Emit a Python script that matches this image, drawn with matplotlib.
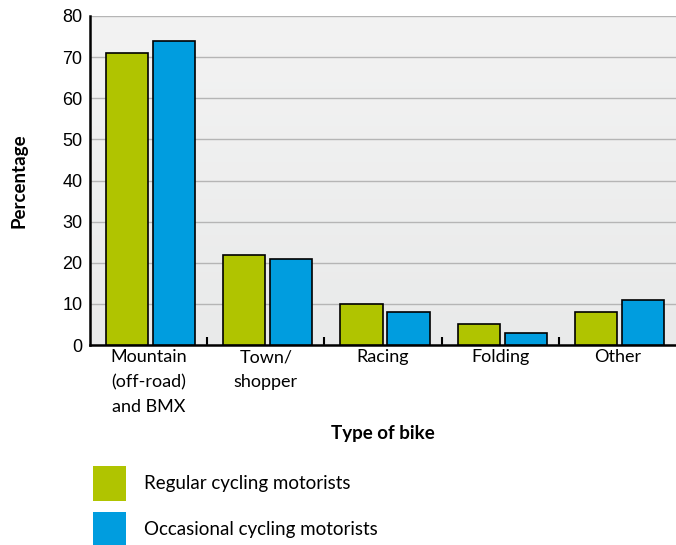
import numpy as np
import matplotlib.pyplot as plt
from matplotlib.patches import Patch
from matplotlib.colors import LinearSegmentedColormap

# data
categories = ['Mountain\n(off-road)\nand BMX', 'Town/\nshopper', 'Racing', 'Folding', 'Other']
regular = [71, 22, 10, 5, 8]
occasional = [74, 21, 8, 3, 11]
series_names = ['Regular cycling motorists', 'Occasional cycling motorists']
y_ticks = [0, 10, 20, 30, 40, 50, 60, 70, 80]

green = '#b0c400'
blue = '#009ddf'

plt.rcParams['font.family'] = ['Lato', 'DejaVu Sans']

fig = plt.figure(figsize=(6.76, 5.45), dpi=100)
ax = fig.add_axes([90/676, 1 - 345/545, 1 - 90/676, (345 - 16)/545])

# light grey gradient background
grad = np.linspace(0, 1, 256).reshape(-1, 1)
bg_cmap = LinearSegmentedColormap.from_list('bg', ['#e9eaea', '#f3f3f3'])
ax.imshow(grad, extent=[0, 1, 0, 1], transform=ax.transAxes, cmap=bg_cmap,
          origin='lower', aspect='auto', zorder=0)

x = np.arange(len(categories))
w = 0.36
ax.bar(x - 0.184, regular, width=w, color=green, edgecolor='black', linewidth=1.2, zorder=3)
ax.bar(x + 0.217, occasional, width=w, color=blue, edgecolor='black', linewidth=1.2, zorder=3)

ax.set_xlim(-0.5, len(categories) - 0.5)
ax.set_ylim(0, 80)
ax.set_yticks(y_ticks)
ax.set_yticklabels([str(t) for t in y_ticks], fontsize=13, family='Liberation Sans')
ax.yaxis.grid(True, color='#b5b5b5', linewidth=1.0, zorder=1)
ax.set_axisbelow(True)
ax.tick_params(axis='y', length=0, pad=5.5)
ax.set_xticks(x)
ax.set_xticklabels(categories, fontsize=13, linespacing=1.68)
ax.tick_params(axis='x', length=0, pad=3)
ax.set_xticks(np.arange(0.5, len(categories) - 0.5, 1), minor=True)
ax.tick_params(axis='x', which='minor', direction='in', length=6, width=1.5, color='black')

for s in ['top', 'right']:
    ax.spines[s].set_visible(False)
ax.spines['left'].set_linewidth(1.8)
ax.spines['bottom'].set_linewidth(1.8)

ax.set_ylabel('Percentage', fontsize=13.5, fontweight='bold', labelpad=25)
ax.set_xlabel('Type of bike', fontsize=13.5, fontweight='bold', labelpad=7)

handles = [Patch(facecolor=green, edgecolor='none'), Patch(facecolor=blue, edgecolor='none')]
fig.legend(handles, series_names, loc='upper left', bbox_to_anchor=(76/676, 1 - 449/545),
           frameon=False, fontsize=13.5, handlelength=1.75, handleheight=2.5,
           labelspacing=0.6, handletextpad=0.95)

fig.savefig('out.png', dpi=100)
